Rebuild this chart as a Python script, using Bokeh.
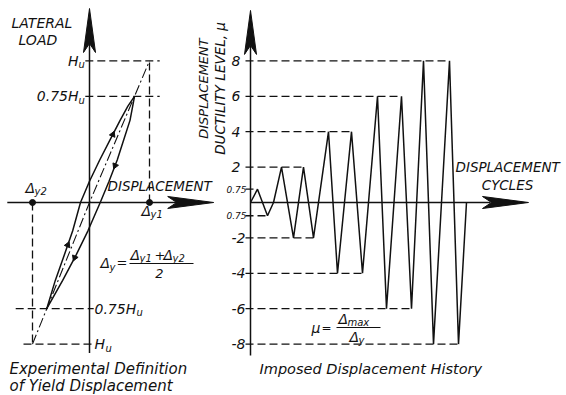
import numpy as np
from bokeh.plotting import figure
from bokeh.models import Range1d, Label
from bokeh.embed import file_html
from bokeh.resources import INLINE

# ---------------- data: imposed displacement history ----------------
cycle_t = [0.0, 0.7, 1.7, 2.3, 3.1, 4.3, 5.3, 6.3, 7.8, 8.7, 10.1, 11.2,
           12.7, 13.6, 15.1, 16.1, 17.3, 18.3, 19.9, 20.8, 21.6]
cycle_mu = [0, 0.75, -0.75, 0, 2, -2, 2, -2, 4, -4, 4, -4,
            6, -6, 6, -6, 8, -8, 8, -8, 0]
mu_levels = [8, 6, 4, 2, 0.75, -0.75, -2, -4, -6, -8]
mu_tick_labels = ["8", "6", "4", "2", "0.75", "0.75", "-2", "-4", "-6", "-8"]

# ---------------- data: experimental definition of yield displacement ----------------
load_levels = [1.0, 0.75, -0.75, -1.0]          # H / Hu
load_labels = ["H", "0.75H", "0.75H", "H"]
delta_y1 = 1.0
delta_y2 = -0.95
up_h = [-0.75, -0.55, -0.37, -0.20, 0.0, 0.15, 0.30, 0.44, 0.58, 0.68, 0.75]
up_d = [-0.7125, -0.57, -0.42, -0.28, -0.15, 0.0, 0.17, 0.34, 0.51, 0.64, 0.75]
down_h = [0.75, 0.68, 0.58, 0.44, 0.30, 0.15, 0.0, -0.20, -0.37, -0.55, -0.75]
down_d = [0.75, 0.72, 0.675, 0.568, 0.462, 0.326, 0.179, -0.026, -0.222, -0.447, -0.7125]
arrow_up_h = [0.48, -0.30]
arrow_down_h = [0.26, -0.39]

# ---------------- layout ----------------
W, H = 566, 395
OFF = 0
X0, X1 = -25.0, 31.6            # cycle axis
Y0, Y1 = -10.904, 11.412        # ductility axis
D0, D1 = -89 / 60, 477 / 60     # displacement (left panel)
L0, L1 = Y0 / 8, Y1 / 8         # load (left panel)

p = figure(width=W, height=H, x_range=Range1d(X0, X1), y_range=Range1d(Y0, Y1),
           output_backend="svg", toolbar_location=None, min_border=0,
           x_axis_location=None, y_axis_location=None)
p.grid.visible = False
p.outline_line_color = None
p.background_fill_color = "white"
p.extra_x_ranges = {"disp": Range1d(D0, D1)}
p.extra_y_ranges = {"load": Range1d(L0, L1)}

def px_t(px): return X0 + (px - OFF) * (X1 - X0) / W
def py_mu(py): return Y1 - (py - OFF) * (Y1 - Y0) / H
def t_px(t): return OFF + (t - X0) * W / (X1 - X0)
def mu_py(m): return OFF + (Y1 - m) * H / (Y1 - Y0)
def d_px(d): return OFF + (d - D0) * W / (D1 - D0)
def h_py(h): return OFF + (L1 - h) * H / (L1 - L0)

INK = "#111111"
FONT = "DejaVu Sans"
LW = 1.5
L = dict(x_range_name="disp", y_range_name="load")

def txt(s, px, py, size=13, align="left", baseline="middle", angle=0.0, style="italic"):
    p.add_layout(Label(x=px_t(px), y=py_mu(py), text=s, text_font=FONT,
                       text_font_size=f"{size}px", text_font_style=style,
                       text_align=align, text_baseline=baseline, angle=angle,
                       text_color=INK))

def arrow_head(tx, ty, direction, length=44, half=6, notch=9):
    if direction == "up":
        xs = [tx, tx + half, tx, tx - half]
        ys = [ty, ty + length, ty + length - notch, ty + length]
    else:
        xs = [tx, tx - length, tx - length + notch, tx - length]
        ys = [ty, ty - half, ty, ty + half]
    p.patch([px_t(x) for x in xs], [py_mu(y) for y in ys], color=INK, line_width=1)

# ================= LEFT PANEL =================
left_axis_h = (-1.063, 1.37)
left_axis_d = (-1.37, 2.07)
p.line([0, 0], [left_axis_h[0], left_axis_h[1] - 0.2], line_color=INK, line_width=LW, **L)
p.line([left_axis_d[0], left_axis_d[1] - 0.55], [0, 0], line_color=INK, line_width=LW, **L)
arrow_head(d_px(0), h_py(left_axis_h[1]), "up")
arrow_head(d_px(left_axis_d[1]), h_py(0), "right", length=46)

dash_extent = {1.0: (-0.07, 1.17), 0.75: (-0.07, 1.17), -0.75: (-1.23, 0.07), -1.0: (-1.1, 0.07)}
for lv in load_levels:
    a, b = dash_extent[lv]
    p.line([a, b], [lv, lv], line_color=INK, line_width=1.3, line_dash="8 4", **L)
p.line([delta_y1, delta_y1], [0, load_levels[0]], line_color=INK, line_width=1.3, line_dash="8 4", **L)
p.line([delta_y2, delta_y2], [0, load_levels[-1]], line_color=INK, line_width=1.3, line_dash="8 4", **L)
p.line([delta_y2, 0, delta_y1], [load_levels[-1], 0, load_levels[0]],
       line_color=INK, line_width=1.1, line_dash="10 3 2 3", **L)
p.line(up_d, up_h, line_color=INK, line_width=LW, **L)
p.line(down_d, down_h, line_color=INK, line_width=LW, **L)
ua_d = np.interp(arrow_up_h, up_h, up_d)
da_d = np.interp(arrow_down_h, down_h[::-1], down_d[::-1])
p.scatter(ua_d, arrow_up_h, marker="triangle", size=6, angle=-0.4, color=INK, **L)
p.scatter(da_d, arrow_down_h, marker="inverted_triangle", size=6, angle=-0.4, color=INK, **L)
p.scatter([delta_y1, delta_y2], [0, 0], marker="circle", size=6, color=INK, **L)

# left texts
txt("LATERAL", 11, 22, 14)
txt("LOAD", 18, 39, 14)
ax = d_px(0)
txt(load_labels[0], ax - 11, h_py(load_levels[0]), 14, "right")
txt("u", ax - 11, h_py(load_levels[0]) + 4, 10)
txt(load_labels[1], ax - 11, h_py(load_levels[1]), 14, "right")
txt("u", ax - 11, h_py(load_levels[1]) + 4, 10)
txt(load_labels[2], ax + 5, h_py(load_levels[2]), 14)
txt("u", ax + 47, h_py(load_levels[2]) + 4, 10)
txt(load_labels[3], ax + 5, h_py(load_levels[3]), 14)
txt("u", ax + 16, h_py(load_levels[3]) + 4, 10)
txt("\u0394", d_px(delta_y2) - 7, 187, 14)
txt("y2", d_px(delta_y2) + 2, 191, 10)
txt("\u0394", d_px(delta_y1) - 8, 210, 14)
txt("y1", d_px(delta_y1) + 1, 214, 10)
txt("DISPLACEMENT", 107, 185, 13.5)
txt("\u0394", 100, 262, 14)
txt("y", 109, 267, 10)
txt("=", 116, 262, 13)
p.line([px_t(129), px_t(193)], [py_mu(263), py_mu(263)], line_color=INK, line_width=1.2)
txt("\u0394", 130, 254, 14)
txt("y1", 139, 258, 10)
txt("+", 154, 255, 13)
txt("\u0394", 163, 254, 14)
txt("y2", 172, 258, 10)
txt("2", 159, 273, 13, "center")
txt("Experimental Definition", 9, 368, 15)
txt("of Yield Displacement", 9, 385, 15)

# ================= RIGHT PANEL =================
right_axis_mu = (-8.64, 10.85)
right_axis_t = (0.0, 27.8)
p.line([0, 0], [right_axis_mu[0], right_axis_mu[1] - 2.0], line_color=INK, line_width=LW)
p.line([right_axis_t[0], right_axis_t[1] - 3.8], [0, 0], line_color=INK, line_width=LW)
arrow_head(t_px(0), mu_py(right_axis_mu[1]), "up")
arrow_head(t_px(right_axis_t[1]), mu_py(0), "right", length=46)

for lv in mu_levels:
    t_end = max(t for t, m in zip(cycle_t, cycle_mu) if m == lv)
    p.line([-0.5, t_end], [lv, lv], line_color=INK, line_width=1.3, line_dash="8 4")
p.line(cycle_t, cycle_mu, line_color=INK, line_width=LW)

for lv, lab in zip(mu_levels, mu_tick_labels):
    if abs(lv) < 1:
        txt(lab, 246, mu_py(lv), 9, "right")
    else:
        txt(lab, 231, mu_py(lv), 14)

txt("DISPLACEMENT", 203, 88, 13, "center", angle=np.pi / 2)
txt("DUCTILITY LEVEL, \u03bc", 219, 88, 13.5, "center", angle=np.pi / 2)
txt("DISPLACEMENT", 455, 166, 13.5)
txt("CYCLES", 507, 184, 13.5, "center")
txt("\u03bc", 311, 327, 14)
txt("=", 321, 327, 12)
p.line([px_t(336), px_t(380)], [py_mu(327), py_mu(327)], line_color=INK, line_width=1.2)
txt("\u0394", 338, 318, 14)
txt("max", 347, 322, 10)
txt("\u0394", 349, 336, 14)
txt("y", 358, 340, 10)
txt("Imposed Displacement History", 259, 368, 14.5)

open("out.html", "w").write(file_html(p, INLINE))
